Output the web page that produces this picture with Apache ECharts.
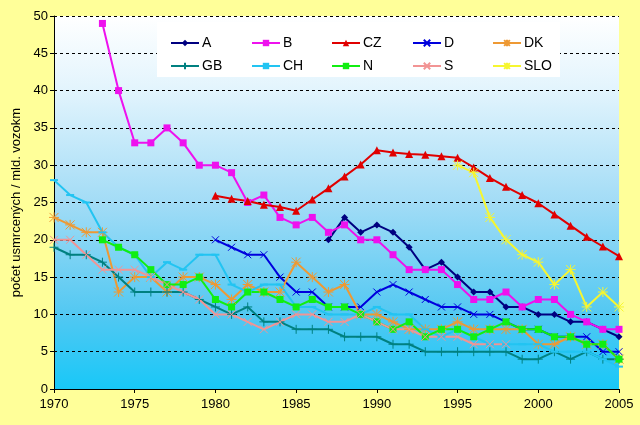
<!DOCTYPE html>
<html>
<head>
<meta charset="utf-8">
<script src="https://cdn.jsdelivr.net/npm/echarts@6/dist/echarts.min.js"></script>
<style>html,body{margin:0;padding:0;background:#ffff99;}#c{width:640px;height:425px;}</style>
</head>
<body>
<div id="c"></div>
<script>
// ---- data ----
const years = [];
for (let y = 1970; y <= 2005; y++) years.push(y);
const yTicks = [0, 5, 10, 15, 20, 25, 30, 35, 40, 45, 50];
const seriesNames = ['A', 'B', 'CZ', 'D', 'DK', 'GB', 'CH', 'N', 'S', 'SLO'];

const A_start = 1987;
const A = [20, 23, 21, 22, 21, 19, 16, 17, 15, 13, 13, 11, 11, 10, 10, 9, 9, 8, 7];
const B_start = 1973;
const B = [49, 40, 33, 33, 35, 33, 30, 30, 29, 25, 26, 23, 22, 23, 21, 22, 20, 20, 18, 16, 16, 16, 14, 12, 12, 13, 11, 12, 12, 10, 9, 8, 8];
const CZ_start = 1980;
const CZ = [25.9, 25.5, 25.2, 24.7, 24.4, 23.9, 25.4, 26.9, 28.5, 30.1, 32, 31.7, 31.5, 31.4, 31.2, 31, 29.7, 28.3, 27.1, 26, 24.9, 23.4, 21.9, 20.4, 19.1, 17.8];
const D_start = 1980;
const D = [20, 19, 18, 18, 15, 13, 13, 11, 11, 11, 13, 14, 13, 12, 11, 11, 10, 10, 9, 8, 8, 7, 7, 7, 5, 5];
const DK_start = 1970;
const DK = [23, 22, 21, 21, 13, 15, 15, 13, 15, 15, 14, 12, 14, 13, 13, 17, 15, 13, 14, 10, 10, 9, 8, 8, 8, 9, 8, 8, 8, 8, 6, 6, 7, 6, 6, 4];
const GB_start = 1970;
const GB = [19, 18, 18, 17, 15, 13, 13, 13, 13, 12, 11, 10, 11, 9, 9, 8, 8, 8, 7, 7, 7, 6, 6, 5, 5, 5, 5, 5, 5, 4, 4, 5, 4, 5, 4, 4];
const CH_start = 1970;
const CH = [28, 26, 25, 21, 19, 18, 15, 17, 16, 18, 18, 14, 13, 14, 14, 11, 11, 10, 10, 10, 11, 10, 10, 8, 7, 8, 7, 6, 6, 6, 6, 5, 5, 5, 4, 3];
const N_start = 1973;
const N = [20, 19, 18, 16, 14, 14, 15, 12, 11, 13, 13, 12, 11, 12, 11, 11, 10, 9, 8, 9, 7, 8, 8, 7, 8, 9, 8, 8, 7, 7, 6, 6, 4];
const S_start = 1970;
const S = [20, 20, 18, 16, 16, 16, 15, 14, 13, 12, 10, 10, 9, 8, 9, 10, 10, 9, 9, 10, 9, 8, 8, 7, 7, 7, 6, 6, 6];
const SLO_start = 1995;
const SLO = [30, 29, 23, 20, 18, 17, 14, 16, 11, 13, 11];

// ---- build ----
function pairs(start, vals) { return vals.map((v, i) => [start + i, v]); }
const symX = 'path://M0,0L10,10M10,0L0,10';
const symAst = 'path://M5,0L5,10M0,5L10,5M0.5,0.5L9.5,9.5M9.5,0.5L0.5,9.5';
const symPlus = 'path://M5,0L5,10M0,5L10,5';

const defs = [
  { name: 'A', data: pairs(A_start, A), color: '#000080', symbol: 'diamond', size: 7 },
  { name: 'B', data: pairs(B_start, B), color: '#ee11ee', symbol: 'rect', size: 7 },
  { name: 'CZ', data: pairs(CZ_start, CZ), color: '#e00000', symbol: 'triangle', size: 8 },
  { name: 'D', data: pairs(D_start, D), color: '#0000dd', symbol: symX, size: 7, stroke: true },
  { name: 'DK', data: pairs(DK_start, DK), color: '#ee9933', symbol: symAst, size: 10, stroke: true },
  { name: 'GB', data: pairs(GB_start, GB), color: '#008080', symbol: symPlus, size: 9, stroke: true },
  { name: 'CH', data: pairs(CH_start, CH), color: '#22c4f2', symbol: 'rect', size: [8, 2] },
  { name: 'N', data: pairs(N_start, N), color: '#11ee11', symbol: 'rect', size: 7 },
  { name: 'S', data: pairs(S_start, S), color: '#f29494', symbol: symX, size: 8, stroke: true },
  { name: 'SLO', data: pairs(SLO_start, SLO), color: '#f6f630', symbol: symAst, size: 10, stroke: true }
];

const series = defs.map(d => ({
  name: d.name, type: 'line', data: d.data,
  symbol: d.symbol, symbolSize: d.size, showAllSymbol: true,
  lineStyle: { color: d.color, width: 2 },
  itemStyle: d.stroke ? { color: 'none', borderColor: d.color, borderWidth: 1 } : { color: d.color, borderWidth: 0 },
  emphasis: { disabled: true },
  animation: false
}));

const colLeft = [170, 251, 331, 412, 492];
const rowTop = [36, 59];
const legends = seriesNames.map((n, i) => ({
  data: [n], left: colLeft[i % 5], top: rowTop[Math.floor(i / 5)],
  padding: 0, itemWidth: 28, itemHeight: 8, itemGap: 0, z: 5,
  textStyle: { fontFamily: 'Liberation Sans, Arial', fontSize: 14, color: '#000', padding: [0, 0, 0, -2] },
  selectedMode: false
}));

const chart = echarts.init(document.getElementById('c'), null, { renderer: 'canvas' });
chart.setOption({
  backgroundColor: '#ffff99',
  animation: false,
  grid: {
    left: 54, right: 21, top: 16, bottom: 36, show: true, borderWidth: 0,
    backgroundColor: new echarts.graphic.LinearGradient(0, 0, 0, 1, [
      { offset: 0, color: '#ffffff' },
      { offset: 0.2, color: '#e2f4fd' },
      { offset: 0.5, color: '#a2dcf6' },
      { offset: 0.8, color: '#52c8f2' },
      { offset: 1, color: '#18c8f8' }
    ])
  },
  legend: legends,
  graphic: [{
    type: 'rect', left: 157, top: 22, shape: { width: 403, height: 55 },
    style: { fill: '#ffffff' }, z: 4, silent: true
  }],
  xAxis: {
    type: 'value', min: 1970, max: 2005, interval: 5,
    axisLine: { show: true, lineStyle: { color: '#000', width: 1 } },
    axisTick: { show: true, length: 4, lineStyle: { color: '#000' } },
    axisLabel: { color: '#000', fontFamily: 'Liberation Sans, Arial', fontSize: 13, margin: 9, formatter: v => String(v) },
    splitLine: { show: false }
  },
  yAxis: {
    type: 'value', min: yTicks[0], max: yTicks[yTicks.length - 1], interval: 5,
    name: 'počet usmrcených / mld. vozokm', nameLocation: 'middle', nameGap: 30, nameRotate: 90,
    nameTextStyle: { color: '#000', fontFamily: 'Liberation Sans, Arial', fontSize: 13 },
    axisLine: { show: true, lineStyle: { color: '#000', width: 1 } },
    axisTick: { show: true, length: 4, lineStyle: { color: '#000' } },
    axisLabel: { color: '#000', fontFamily: 'Liberation Sans, Arial', fontSize: 13, margin: 6 },
    splitLine: { show: true, lineStyle: { color: '#000', type: [3, 3], width: 1 } }
  },
  series: series
});
</script>
</body>
</html>
